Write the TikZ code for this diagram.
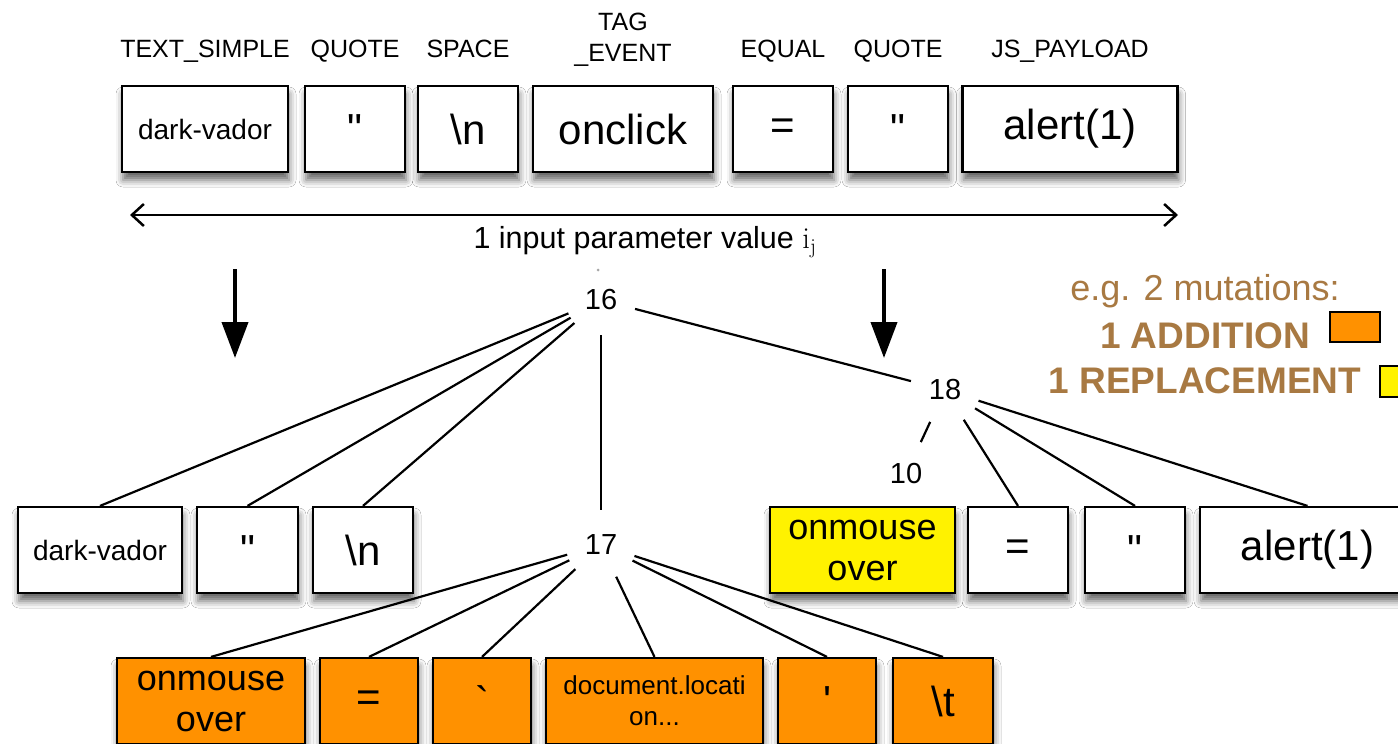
\documentclass[tikz,border=0pt]{standalone}
\usepackage{fontspec}
\newfontfamily\hv{Liberation Sans}
\usetikzlibrary{arrows.meta,shadows.blur}
\definecolor{mutorange}{RGB}{255,145,0}
\definecolor{mutyellow}{RGB}{255,242,0}
\definecolor{legendbrown}{RGB}{168,121,66}

\begin{document}
\begin{tikzpicture}[x=1pt,y=-1pt,
  tok/.style={draw=black, line width=2.2pt, fill=white, minimum height=86pt,
    inner sep=0pt, align=center,
    blur shadow={shadow xshift=1pt, shadow yshift=-8pt, shadow blur radius=7pt,
      shadow opacity=60}},
  big/.style={font=\hv\fontsize{42}{46}\selectfont},
  mid/.style={font=\hv\fontsize{36}{41}\selectfont},
  small/.style={font=\hv\fontsize{28}{30}\selectfont},
  tiny/.style={font=\hv\fontsize{26}{31}\selectfont},
  added/.style={tok, fill=mutorange},
  replaced/.style={tok, fill=mutyellow},
  hdr/.style={font=\hv\fontsize{25}{30}\selectfont, anchor=base},
  tnode/.style={circle, minimum size=70pt, inner sep=0pt,
    font=\hv\fontsize{29}{30}\selectfont},
  edge/.style={line width=2.2pt, black},
  drop/.style={line width=4pt, -{Triangle[length=36pt,width=26pt]}},
  span/.style={line width=2.5pt, {Straight Barb[length=12pt,width=22pt,line width=2.5pt]}-{Straight Barb[length=12pt,width=22pt,line width=2.5pt]}},
  legend/.style={text=legendbrown, font=\hv\fontsize{36}{38}\selectfont},
  legendb/.style={text=legendbrown, font=\hv\bfseries\fontsize{37}{40}\selectfont},
  swatch/.style={draw=black, line width=2.2pt}
]
\useasboundingbox (0,0) rectangle (1398,744);
\clip (0,0) rectangle (1398,744);
\fill[white] (0,0) rectangle (1398,744);

% token class names
\node[hdr] (h1) at (205,57) {TEXT\_SIMPLE};
\node[hdr] (h2) at (355,57) {QUOTE};
\node[hdr] (h3) at (468,57) {SPACE};
\node[hdr] (h4a) at (623,30) {TAG};
\node[hdr] (h4b) at (623,61) {\_EVENT};
\node[hdr] (h5) at (783,57) {EQUAL};
\node[hdr] (h6) at (898,57) {QUOTE};
\node[hdr] (h7) at (1070,57) {JS\_PAYLOAD};

% original token sequence
\node[tok, small, minimum width=166pt] (t1) at (205,129) {dark-vador};
\node[tok, big, minimum width=100pt] (t2) at (355,129) {"};
\node[tok, big, minimum width=100pt] (t3) at (468,129) {\textbackslash n};
\node[tok, big, minimum width=180pt] (t4) at (623,129) {onclick};
\node[tok, big, minimum width=100pt] (t5) at (783,129) {=};
\node[tok, big, minimum width=100pt] (t6) at (898,129) {"};
\node[tok, big, minimum width=215pt] (t7) at (1070,129) {alert(1)};

% extent of one input value
\coordinate (sL) at (130,215);
\coordinate (sR) at (1178,215);
\draw[span] (sL) -- (sR);
\node[font=\hv\fontsize{30.5}{32}\selectfont] (cap) at (645,242)
  {1 input parameter value $\mathrm{i}_{\mathrm{j}}$};

% mutation arrows
\coordinate (a1s) at (235,269);
\coordinate (a1e) at (235,358);
\coordinate (a2s) at (884,269);
\coordinate (a2e) at (884,358);
\draw[drop] (a1s) -- (a1e);
\draw[drop] (a2s) -- (a2e);

% parse tree
\fill[black!35] (598,270) circle (1.5pt);
\node[tnode] (n16) at (601,300) {16};
\node[tnode] (n17) at (601,545) {17};
\node[tnode] (n18) at (945,390) {18};
\node[tnode] (n10) at (906,474) {10};

% leaves kept from the original
\node[tok, small, minimum width=164pt] (l1) at (100,550) {dark-vador};
\node[tok, big, minimum width=101pt] (l2) at (247.5,550) {"};
\node[tok, big, minimum width=100pt] (l3) at (363,550) {\textbackslash n};

% replaced leaf and remaining tokens
\node[replaced, mid, minimum width=185pt] (r1) at (862.5,550) {onmouse\\over};
\node[tok, big, minimum width=100pt] (r2) at (1018,550) {=};
\node[tok, big, minimum width=100pt] (r3) at (1135,550) {"};
\node[tok, big, minimum width=215pt] (r4) at (1307.5,550) {alert(1)};

% added subtree
\node[added, mid, minimum width=188pt] (o1) at (211,701) {onmouse\\over};
\node[added, big, minimum width=98pt] (o2) at (369,701) {=};
\node[added, big, minimum width=98pt] (o3) at (482,701) {`};
\node[added, tiny, minimum width=217pt] (o4) at (654.5,701) {document.locati\\on...};
\node[added, big, minimum width=98pt] (o5) at (827,701) {'};
\node[added, big, minimum width=100pt] (o6) at (943,701) {\textbackslash t};

\draw[edge] (n16) -- (l1.north);
\draw[edge] (n16) -- (l2.north);
\draw[edge] (n16) -- (l3.north);
\draw[edge] (n16) -- (n17);
\draw[edge] (n16) -- (n18);

\draw[edge] (n17) -- (o1.north);
\draw[edge] (n17) -- (o2.north);
\draw[edge] (n17) -- (o3.north);
\draw[edge] (n17) -- (o4.north);
\draw[edge] (n17) -- (o5.north);
\draw[edge] (n17) -- (o6.north);

\draw[edge] (n18) -- (n10);
\draw[edge] (n18) -- (r2.north);
\draw[edge] (n18) -- (r3.north);
\draw[edge] (n18) -- (r4.north);

% legend
\node[legend] (lg1) at (1205,291) {e.g. 2 mutations:};
\node[legendb] (lg2) at (1205,336) {1 ADDITION};
\node[legendb] (lg3) at (1205,381) {1 REPLACEMENT};
\draw[swatch, fill=mutorange] (1330,312) rectangle (1380,342);
\draw[swatch, fill=mutyellow] (1380,366) rectangle (1420,397);
\end{tikzpicture}
\end{document}
